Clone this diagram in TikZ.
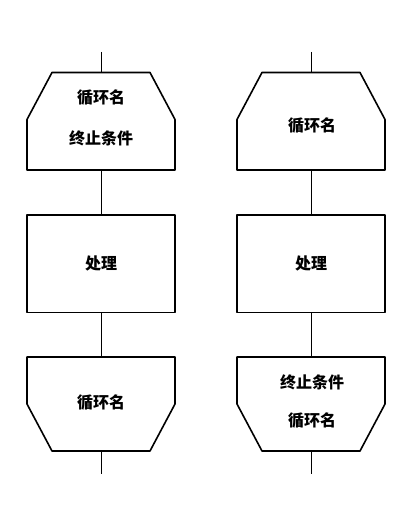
\documentclass[tikz,border=0pt]{standalone}
\usepackage{fontspec}
\setmainfont{Noto Sans CJK SC}
\usetikzlibrary{calc}

\begin{document}
\begin{tikzpicture}[x=1pt, y=1pt,
  outl/.style={draw=black, line width=1.6pt, line join=round},
  wire/.style={draw=black, line width=1pt},
  frame/.style={draw=none, inner sep=0pt, outer sep=0pt, minimum width=148pt},
  proc/.style={frame, outl, minimum height=97.5pt},
  lbl/.style={font=\fontsize{16}{19}\selectfont\bfseries, inner sep=1pt},
]
\useasboundingbox (0,0) rectangle (416,530);

\def\CX{25}   % chamfer width
\def\CY{47}   % chamfer height

% the two loop columns
\foreach \col/\cx in {l/101, r/311} {
  \coordinate (\col top) at (\cx,478);
  \node[frame, minimum height=97.5pt] (\col head) at (\cx,408.75) {};
  \node[proc, lbl] (\col proc) at (\cx,266.25) {处理};
  \node[frame, minimum height=94pt] (\col tail) at (\cx,126) {};
  \coordinate (\col bot) at (\cx,56);

  % loop head: top corners cut off
  \draw[outl] ($(\col head.north west)+(\CX,0)$) -- ($(\col head.north east)+(-\CX,0)$)
    -- ($(\col head.north east)+(0,-\CY)$) -- (\col head.south east)
    -- (\col head.south west) -- ($(\col head.north west)+(0,-\CY)$) -- cycle;
  % loop tail: bottom corners cut off
  \draw[outl] (\col tail.north west) -- (\col tail.north east)
    -- ($(\col tail.south east)+(0,\CY)$) -- ($(\col tail.south east)+(-\CX,0)$)
    -- ($(\col tail.south west)+(\CX,0)$) -- ($(\col tail.south west)+(0,\CY)$) -- cycle;

  \draw[wire] (\col top) -- (\col head.north);
  \draw[wire] (\col head.south) -- (\col proc.north);
  \draw[wire] (\col proc.south) -- (\col tail.north);
  \draw[wire] (\col tail.south) -- (\col bot);
}

% texts
\node[lbl] (lname) at (101,432) {循环名};
\node[lbl] (lcond) at (101,392) {终止条件};
\node[lbl] (rname) at (312,404) {循环名};
\node[lbl] (lnameb) at (101,127) {循环名};
\node[lbl] (rcond) at (312,148) {终止条件};
\node[lbl] (rnameb) at (312,109) {循环名};

\end{tikzpicture}
\end{document}
